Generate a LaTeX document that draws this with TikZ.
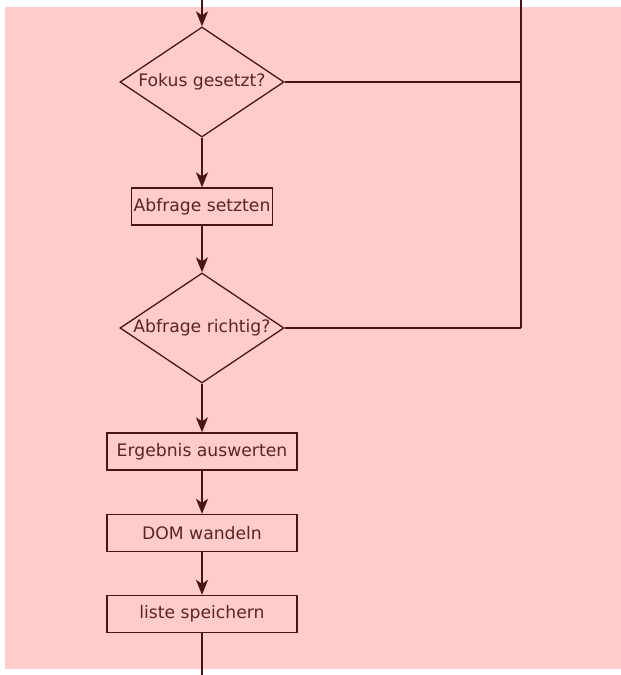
\documentclass[tikz,border=0pt]{standalone}
\usepackage{fontspec}
\setmainfont{DejaVu Sans}
\usetikzlibrary{shapes.geometric,arrows.meta}
\definecolor{bgpink}{HTML}{FFCCCC}
\definecolor{ink}{HTML}{4A1414}
\definecolor{txt}{HTML}{5A2424}
\tikzset{
  flow/.style={draw=ink, line width=1.5pt},
  arr/.style={flow, -{Stealth[length=15pt, width=12pt, inset=4pt]}},
  decision/.style={diamond, draw=ink, line width=1.3pt, inner sep=0pt,
    minimum width=164pt, minimum height=110pt, aspect=1.49,
    text=txt, font=\fontsize{17.2}{19}\selectfont},
  stepbox/.style={rectangle, draw=ink, line width=1.3pt, inner sep=0pt,
    minimum height=37pt, text=txt, font=\fontsize{17.2}{19}\selectfont},
}
\begin{document}
\begin{tikzpicture}[x=1pt, y=-1pt]
  \useasboundingbox (0,0) rectangle (621,675);
  % page background
  \fill[bgpink] (5,7) rectangle (621,669);

  % nodes of the flow
  \node[decision] (fokus) at (202,82) {Fokus gesetzt?};
  \node[stepbox, minimum width=141pt] (setzen) at (202,206.5) {Abfrage setzten};
  \node[decision] (richtig) at (202,328) {Abfrage richtig?};
  \node[stepbox, minimum width=190pt] (auswerten) at (202,451.5) {Ergebnis auswerten};
  \node[stepbox, minimum width=190pt] (dom) at (202,533) {DOM wandeln};
  \node[stepbox, minimum width=190pt] (liste) at (202,614) {liste speichern};

  % loose ends
  \coordinate (in) at (202,0);
  \coordinate (out) at (202,675);
  \coordinate (back) at (521,0);
  \coordinate (j1) at (521,82);
  \coordinate (j2) at (521,328);

  % connectors
  \draw[arr] (in) -- (fokus.north);
  \draw[arr] (fokus.south) -- (setzen.north);
  \draw[arr] (setzen.south) -- (richtig.north);
  \draw[arr] (richtig.south) -- (auswerten.north);
  \draw[arr] (auswerten.south) -- (dom.north);
  \draw[arr] (dom.south) -- (liste.north);
  \draw[flow] (liste.south) -- (out);
  \draw[flow] (fokus.east) -- (j1);
  \draw[flow] (richtig.east) -- (j2);
  \draw[flow] (back) -- (j2);
\end{tikzpicture}
\end{document}
